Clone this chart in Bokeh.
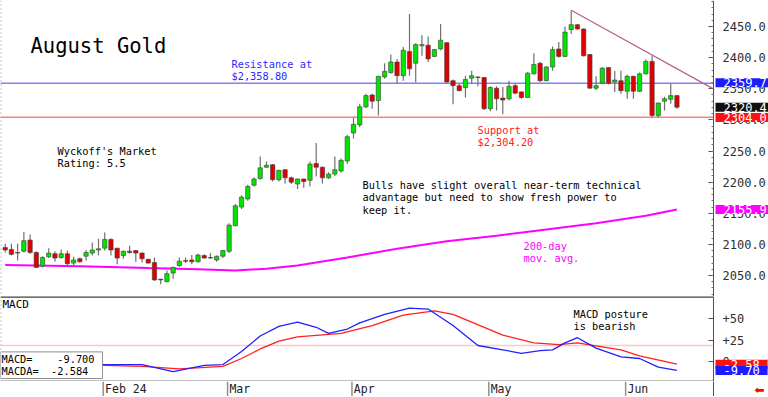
from bokeh.plotting import figure
from bokeh.models import Range1d, Span, Label, FixedTicker, PrintfTickFormatter, ColumnDataSource, LinearAxis
from bokeh.layouts import column
from bokeh.core.properties import value
from bokeh.embed import file_html
from bokeh.resources import INLINE

# ---------------- data ----------------
opens = [2095, 2092, 2087, 2089, 2107, 2087, 2065, 2080, 2085, 2079, 2085, 2070, 2077, 2081, 2086, 2091,
         2094, 2108, 2094, 2082, 2089, 2090, 2086, 2076, 2071, 2044, 2040, 2054, 2066, 2074, 2075, 2072,
         2082, 2079, 2075, 2081, 2089, 2130, 2160, 2173, 2195, 2206, 2224, 2228, 2204, 2220, 2207, 2197,
         2205, 2203, 2230, 2224, 2207, 2213, 2218, 2234, 2279, 2292, 2321, 2340, 2331, 2369, 2376, 2393,
         2371, 2410, 2391, 2419, 2420, 2402, 2414, 2424, 2363, 2355, 2352, 2367, 2369, 2368, 2318, 2351,
         2335, 2334, 2355, 2345, 2336, 2374, 2391, 2363, 2385, 2414, 2402, 2445, 2453, 2446, 2405, 2351,
         2359, 2384, 2361, 2363, 2346, 2370, 2346, 2374, 2394, 2307, 2330, 2333, 2339]
highs = [2101, 2101, 2101, 2120, 2116, 2089, 2081, 2094, 2089, 2092, 2090, 2080, 2079, 2091, 2103, 2109,
         2119, 2110, 2094, 2090, 2098, 2091, 2087, 2077, 2079, 2045, 2058, 2064, 2079, 2079, 2083, 2085,
         2084, 2086, 2082, 2091, 2134, 2165, 2179, 2196, 2208, 2241, 2233, 2229, 2220, 2221, 2209, 2206,
         2206, 2233, 2263, 2225, 2216, 2241, 2238, 2276, 2304, 2326, 2342, 2342, 2371, 2391, 2405, 2398,
         2417, 2470, 2423, 2436, 2434, 2414, 2454, 2425, 2365, 2358, 2371, 2379, 2370, 2369, 2354, 2354,
         2353, 2363, 2359, 2346, 2377, 2407, 2393, 2386, 2418, 2425, 2450, 2476, 2454, 2447, 2406, 2370,
         2385, 2385, 2379, 2379, 2373, 2371, 2376, 2397, 2403, 2328, 2337, 2358, 2340]
lows = [2087, 2082, 2074, 2087, 2085, 2062, 2063, 2078, 2072, 2077, 2066, 2067, 2071, 2074, 2082, 2082,
        2090, 2082, 2068, 2077, 2085, 2072, 2071, 2069, 2041, 2036, 2039, 2045, 2064, 2070, 2068, 2071,
        2077, 2077, 2072, 2078, 2086, 2129, 2157, 2170, 2193, 2204, 2223, 2201, 2201, 2198, 2197, 2189,
        2191, 2193, 2209, 2198, 2205, 2210, 2215, 2229, 2270, 2288, 2319, 2318, 2307, 2366, 2374, 2359,
        2363, 2371, 2360, 2403, 2393, 2401, 2412, 2359, 2325, 2346, 2336, 2358, 2354, 2316, 2314, 2315,
        2309, 2331, 2341, 2334, 2336, 2373, 2361, 2362, 2379, 2400, 2401, 2438, 2445, 2402, 2350, 2348,
        2358, 2357, 2345, 2342, 2334, 2334, 2345, 2373, 2304, 2304, 2315, 2326, 2318]
closes = [2091, 2084, 2086, 2106, 2087, 2063, 2079, 2086, 2078, 2085, 2069, 2075, 2072, 2087, 2091, 2093,
          2108, 2091, 2078, 2089, 2087, 2086, 2077, 2070, 2043, 2043, 2053, 2063, 2073, 2073, 2072, 2083,
          2078, 2078, 2081, 2090, 2131, 2162, 2176, 2193, 2205, 2223, 2227, 2204, 2219, 2207, 2200, 2205,
          2201, 2229, 2224, 2207, 2213, 2220, 2235, 2273, 2293, 2321, 2339, 2330, 2370, 2378, 2393, 2371,
          2412, 2382, 2421, 2421, 2398, 2413, 2428, 2361, 2355, 2347, 2365, 2371, 2368, 2318, 2352, 2334,
          2332, 2354, 2343, 2336, 2375, 2389, 2363, 2385, 2413, 2402, 2441, 2453, 2446, 2403, 2351, 2355,
          2383, 2359, 2364, 2347, 2370, 2346, 2374, 2394, 2307, 2327, 2334, 2339, 2320.4]

ma200_idx = [0, 12, 23, 31, 37, 42, 47, 55, 63, 71, 79, 87, 95, 103, 108]
ma200_val = [2067, 2065, 2062, 2060, 2058, 2061, 2066, 2079, 2093, 2105, 2114, 2124, 2134, 2146, 2156]

trend_idx = [91, 114]
trend_val = [2476, 2349]

resistance = 2358.8
support = 2304.2
macd_ref = 19

macd_idx = [0, 8, 16, 22, 27, 32, 35, 38, 41, 44, 47, 50, 52, 55, 57, 61, 65, 68, 72, 76, 80, 83, 86, 88, 90, 92, 95, 99, 102, 105, 108]
macd_val = [2, 0, -3, -3, -11, -4, -3, 12, 30, 41, 46, 40, 33, 38, 45, 55, 62, 61, 42, 19, 14, 10, 13, 14, 22, 28, 16, 6, 4, -6, -9.7]
signal_idx = [0, 1, 16, 22, 28, 35, 38, 41, 44, 47, 54, 59, 64, 69, 72, 75, 80, 85, 89, 92, 99, 102, 108]
signal_val = [10, 6, -4, -5, -8, -5, 4, 15, 24, 29, 33, 42, 54, 59, 55, 46, 31, 22, 20, 22, 14, 7, -2.6]

price_ticks = [2050, 2100, 2150, 2200, 2250, 2300, 2350, 2400, 2450]
macd_ticks = [0, 25, 50]
macd_tick_labels = {0: "0", 25: "+25", 50: "+50"}

month_idx = [16, 36, 56, 78, 100]
month_labels = ["Feb 24", "Mar", "Apr", "May", "Jun"]

last_price = 2320.4
ma200_last = 2155.9
resist_tag = 2359.7
support_tag = 2304.0
macd_last = -9.70
macda_last = -2.584

# ---------------- derived ----------------
n = len(opens)
idx = list(range(n))
tops = [max(o, c) for o, c in zip(opens, closes)]
bots = [min(o, c) for o, c in zip(opens, closes)]
cols = ["#00e400" if c >= o else "#e00000" for o, c in zip(opens, closes)]
src = ColumnDataSource(dict(x=idx, o=opens, h=highs, l=lows, c=closes, t=tops, b=bots, col=cols))

MONO = "DejaVu Sans Mono"
NB = "\u00a0"
W = 768
X0, X1 = -0.756, 122.72          # frame spans the full width; price scale sits inside it
XR = Range1d(X0, X1)
AXIS_PX = 713
AX = X0 + (X1 - X0) * AXIS_PX / W  # x value where the price axis is drawn

def base(height, yr):
    f = figure(width=W, height=height, x_range=XR, y_range=yr, output_backend="svg",
               toolbar_location=None, x_axis_type=None, y_axis_type=None,
               min_border_left=0, min_border_right=0, min_border_top=0, min_border_bottom=0)
    f.grid.visible = False
    f.outline_line_color = None
    f.background_fill_color = "white"
    f.border_fill_color = "white"
    return f

def add_price_axis(f, ticks, minor, formatter=None, overrides=None):
    ax = LinearAxis(fixed_location=AX, ticker=FixedTicker(ticks=ticks, minor_ticks=minor))
    if formatter is not None:
        ax.formatter = formatter
    if overrides:
        ax.major_label_overrides = overrides
    ax.axis_line_color = "#505050"
    ax.major_tick_in = 5
    ax.major_tick_out = 0
    ax.minor_tick_in = 2
    ax.minor_tick_out = 0
    ax.major_tick_line_color = "#505050"
    ax.minor_tick_line_color = "#707070"
    ax.major_label_text_font = MONO
    ax.major_label_text_font_size = "12px"
    ax.major_label_text_color = "#303030"
    ax.major_label_standoff = 9
    f.add_layout(ax, "right")
    return ax

def lab(f, x, y, text, size="10.3px", color="black", baseline="top", font=MONO):
    f.add_layout(Label(x=x, y=y, x_units="screen", y_units="screen", text=text, text_font=font,
                       text_font_size=size, text_color=color, text_baseline=baseline,
                       text_line_height=1.05))

def vbox(f, yv, text, bg):
    f.add_layout(Label(x=715, y=yv, x_units="screen", y_units="data", text=text, text_font=MONO,
                       text_font_size="12px", text_color="white", text_baseline="middle",
                       background_fill_color=bg,
                       padding=dict(left=8, right=8, top=0, bottom=0)))

def hline(f, yv, color, width):
    f.segment(x0=[X0], y0=[yv], x1=[AX], y1=[yv], line_color=color, line_width=width)

# ---------------- main panel ----------------
p1 = base(296, Range1d(2016.3, 2491.8))
add_price_axis(p1, price_ticks, list(range(2020, 2491, 10)), formatter=PrintfTickFormatter(format="%.1f"))

p1.add_layout(Span(location=X0, dimension="height", line_color="#909090", line_dash="1 3", line_width=2))
hline(p1, resistance, "#8080ff", 1.5)
hline(p1, support, "#ff8080", 1.5)

p1.line(ma200_idx, ma200_val, line_color="#ff00ff", line_width=2)
p1.line(trend_idx, trend_val, line_color="#b8608a", line_width=1.2)

p1.segment(x0="x", y0="l", x1="x", y1="h", source=src, line_color="#707070", line_width=1.2)
p1.vbar(x="x", width=0.7, top="t", bottom="b", source=src, fill_color="col", line_color="#404040", line_width=0.6)

lab(p1, 30, 263, "August Gold", size="20.5px")
lab(p1, 231, 239, "Resistance at\n$2,358.80", color="#2a2aff")
lab(p1, 57, 152, "Wyckoff's Market\nRating: 5.5")
lab(p1, 477, 173, "Support at\n$2,304.20", color="#ff2020")
lab(p1, 362, 118, "Bulls have slight overall near-term technical\nadvantage but need to show fresh power to\nkeep it.")
lab(p1, 523, 57, "200-day\nmov. avg.", color="#ff00ff")

vbox(p1, resist_tag, "%.1f" % resist_tag, "#1c1cff")
vbox(p1, last_price, "%.1f" % last_price, "#101010")
vbox(p1, support_tag, "%.1f" % support_tag, "#ff1010")
vbox(p1, ma200_last, "%.1f" % ma200_last, "#ff00ff")

# ---------------- MACD panel ----------------
p2 = base(85, Range1d(-22.5, 75.5))
add_price_axis(p2, macd_ticks, [], overrides=macd_tick_labels)
p2.add_layout(Span(location=X0, dimension="height", line_color="#909090", line_dash="1 3", line_width=2))
hline(p2, 75.5, "#404040", 2.5)
hline(p2, -22.5, "#808080", 2)
hline(p2, macd_ref, "#ffc8c8", 1.5)
p2.line(signal_idx, signal_val, line_color="#ff2020", line_width=1.3)
p2.line(macd_idx, macd_val, line_color="#2020ff", line_width=1.3)

lab(p2, 2, 84, "MACD", size="11px")
lab(p2, 573, 74, "MACD posture\nis bearish", size="10.3px")
macd_text = ("MACD=" + NB * 4 + "%.3f" % macd_last + "\n" + "MACDA=" + NB * 2 + "%.3f" % macda_last)
p2.add_layout(Label(x=0, y=3, x_units="screen", y_units="screen", text=macd_text,
                    text_font=MONO, text_font_size="10.3px", text_color="black", text_baseline="bottom",
                    text_line_height=1.05, background_fill_color="white", border_line_color="#909090",
                    padding=dict(left=1, right=8, top=1, bottom=1)))
vbox(p2, macda_last, "%.2f" % macda_last, "#ff1010")
vbox(p2, macd_last, "%.2f" % macd_last, "#1c1cff")

# ---------------- date strip ----------------
p3 = base(15, Range1d(0, 1))
p3.segment(x0=[m - 0.25 for m in month_idx], y0=0, x1=[m - 0.25 for m in month_idx], y1=1,
           line_color="#909090", line_width=1.5)
p3.segment(x0=[AX], y0=[0], x1=[AX], y1=[1], line_color="#505050", line_width=1)
p3.text(x=[m + 0.05 for m in month_idx], y=0.5, text=month_labels, text_font=value(MONO),
        text_font_size="11.5px", text_baseline="middle", text_align="left", text_color="#202020")
p3.add_layout(Label(x=754, y=7, x_units="screen", y_units="screen", text="\u2b05", text_font="DejaVu Sans",
                    text_font_size="12px", text_color="#ff0000", text_baseline="middle"))

layout = column(p1, p2, p3, spacing=0)
html = file_html(layout, INLINE, "August Gold")
html = html.replace("<head>", "<head><style>html,body{margin:0;padding:0;overflow:hidden}</style>", 1)
open("out.html", "w").write(html)
